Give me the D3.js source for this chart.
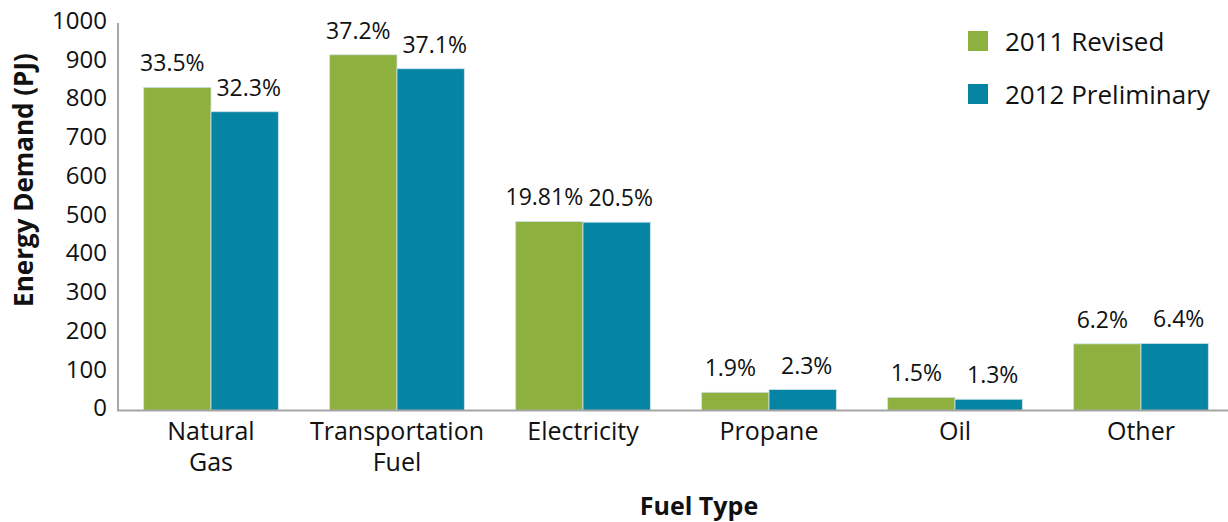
<!DOCTYPE html>
<html>
<head>
<meta charset="utf-8">
<script src="https://cdn.jsdelivr.net/npm/d3@7"></script>
<style>
  html, body { margin: 0; padding: 0; background: #fff; }
  svg { display: block; }
  text { font-family: "Open Sans", "Noto Sans", sans-serif; fill: #111; }
</style>
</head>
<body>
<svg id="chart" width="1228" height="522"></svg>
<script>
// Fuel categories (multi-line labels)
const categories = ["Natural Gas", "Transportation Fuel", "Electricity", "Propane", "Oil", "Other"];
const categoryLines = [["Natural", "Gas"], ["Transportation", "Fuel"], ["Electricity"], ["Propane"], ["Oil"], ["Other"]];

// Series
const seriesNames = ["2011 Revised", "2012 Preliminary"];
const seriesColors = ["#8eb03e", "#0585a3"];

// Energy demand (PJ)
const values2011 = [834, 918, 488, 47, 34, 172];
const values2012 = [771, 882, 486, 54, 29, 173];

// Share-of-total labels
const shares2011 = ["33.5%", "37.2%", "19.81%", "1.9%", "1.5%", "6.2%"];
const shares2012 = ["32.3%", "37.1%", "20.5%", "2.3%", "1.3%", "6.4%"];

// Y axis ticks
const yTicks = [0, 100, 200, 300, 400, 500, 600, 700, 800, 900, 1000];

const svg = d3.select("#chart");

const x0 = d3.scaleBand()
  .domain(categories)
  .range([118, 1234])
  .paddingInner(0.276)
  .paddingOuter(0.138);

const x1 = d3.scaleBand()
  .domain(seriesNames)
  .range([0, x0.bandwidth()]);

const y = d3.scaleLinear()
  .domain([0, 1000])
  .range([410.5, 23]);

const color = d3.scaleOrdinal().domain(seriesNames).range(seriesColors);

const rows = categories.map((c, i) => ({
  category: c,
  lines: categoryLines[i],
  bars: [
    { series: seriesNames[0], value: values2011[i], label: shares2011[i] },
    { series: seriesNames[1], value: values2012[i], label: shares2012[i] }
  ]
}));

// Bars
const groups = svg.append("g")
  .selectAll("g")
  .data(rows)
  .join("g")
  .attr("transform", d => `translate(${x0(d.category)},0)`);

groups.selectAll("rect")
  .data(d => d.bars)
  .join("rect")
  .attr("x", d => x1(d.series))
  .attr("y", d => y(d.value))
  .attr("width", x1.bandwidth())
  .attr("height", d => y(0) - y(d.value))
  .attr("fill", d => color(d.series))
  .attr("stroke", "#cfe3ea")
  .attr("stroke-width", 0.8);

// Value labels above bars; the pair is nudged apart so long labels don't touch
groups.selectAll("text.share")
  .data(d => d.bars)
  .join("text")
  .attr("class", "share")
  .attr("x", d => x1(d.series) + x1.bandwidth() / 2)
  .attr("y", d => y(d.value) - 16)
  .attr("dx", (d, i) => i === 0 ? -5 : 4)
  .attr("text-anchor", "middle")
  .attr("font-size", 23)
  .text(d => d.label);

// Y axis line and tick labels
const yAxis = svg.append("g");
yAxis.append("line")
  .attr("x1", 118).attr("x2", 118)
  .attr("y1", y(1000)).attr("y2", y(0))
  .attr("stroke", "#a6a6a6").attr("stroke-width", 2);

yAxis.selectAll("text")
  .data(yTicks)
  .join("text")
  .attr("x", 107)
  .attr("y", d => y(d) - 2.5)
  .attr("dy", "0.35em")
  .attr("text-anchor", "end")
  .attr("font-size", 24)
  .text(d => d);

// X axis line
svg.append("line")
  .attr("x1", 117).attr("x2", 1228)
  .attr("y1", y(0)).attr("y2", y(0))
  .attr("stroke", "#a6a6a6").attr("stroke-width", 2);

// Category labels, one text element per line
const catLines = rows.flatMap(d => d.lines.map((l, i) => ({
  text: l,
  line: i,
  cx: x0(d.category) + x0.bandwidth() / 2
})));

svg.append("g")
  .selectAll("text")
  .data(catLines)
  .join("text")
  .attr("x", d => d.cx)
  .attr("y", d => 440 + d.line * 31)
  .attr("text-anchor", "middle")
  .attr("font-size", 25)
  .text(d => d.text);

// Axis titles
svg.append("text")
  .attr("transform", "translate(33,180) rotate(-90)")
  .attr("text-anchor", "middle")
  .attr("font-size", 26)
  .attr("font-weight", "bold")
  .text("Energy Demand (PJ)");

svg.append("text")
  .attr("x", 699)
  .attr("y", 515)
  .attr("text-anchor", "middle")
  .attr("font-size", 25)
  .attr("font-weight", "bold")
  .text("Fuel Type");

// Legend
const legend = svg.append("g")
  .selectAll("g")
  .data(seriesNames)
  .join("g")
  .attr("transform", (d, i) => `translate(968,${31 + i * 53})`);

legend.append("rect")
  .attr("width", 20)
  .attr("height", 20)
  .attr("fill", d => color(d));

legend.append("text")
  .attr("x", 37)
  .attr("y", 11)
  .attr("dy", "0.35em")
  .attr("font-size", 26)
  .text(d => d);
</script>
</body>
</html>
